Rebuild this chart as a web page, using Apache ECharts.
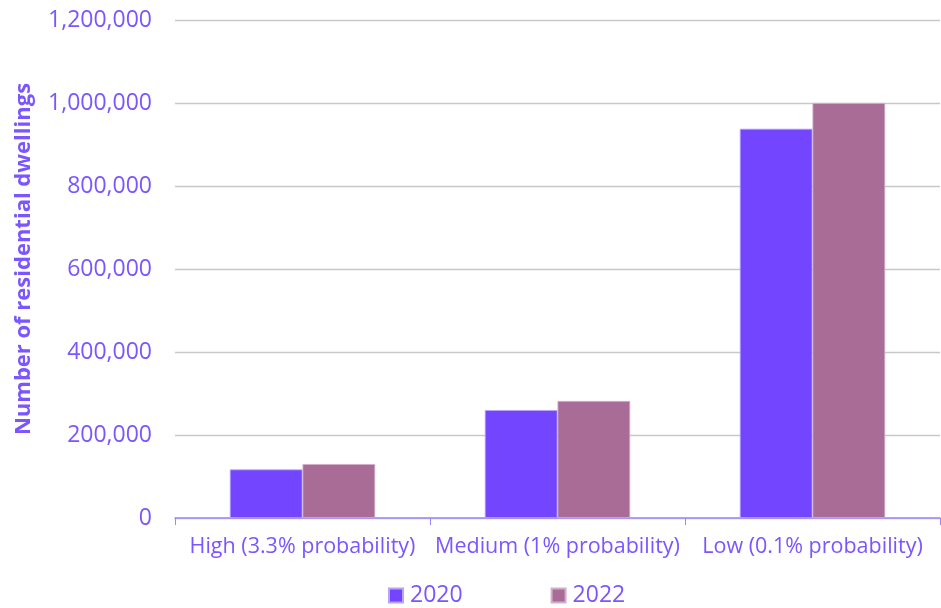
<!DOCTYPE html>
<html>
<head>
<meta charset="utf-8">
<script src="https://cdn.jsdelivr.net/npm/echarts@6/dist/echarts.min.js"></script>
<style>html,body{margin:0;padding:0;background:#fff}#c{width:941px;height:608px}</style>
</head>
<body>
<div id="c"></div>
<script>
const categories = ['High (3.3% probability)', 'Medium (1% probability)', 'Low (0.1% probability)'];
const seriesNames = ['2020', '2022'];
const values2020 = [117000, 260000, 938000];
const values2022 = [130000, 282000, 1000000];
const yTicks = [0, 200000, 400000, 600000, 800000, 1000000, 1200000];

const textColor = '#7B55FF';
const chart = echarts.init(document.getElementById('c'));
chart.setOption({
  animation: false,
  textStyle: { fontFamily: 'Open Sans' },
  grid: { left: 175, right: 1, top: 20, bottom: 90, containLabel: false, outerBoundsMode: 'none' },
  legend: {
    top: 579,
    left: 383,
    padding: [5, 5, 5, 5],
    itemWidth: 14, itemHeight: 14, itemGap: 88,
    icon: 'rect',
    textStyle: { color: textColor, fontSize: 23, fontFamily: 'Open Sans', padding: [0, 0, 0, 2] },
    data: seriesNames
  },
  xAxis: {
    type: 'category',
    data: categories,
    axisLine: { lineStyle: { color: '#9D85FF', width: 1.5 } },
    axisTick: { show: true, length: 7, lineStyle: { color: '#9D85FF' } },
    axisLabel: { color: textColor, fontSize: 21.5, margin: 18, interval: 0, hideOverlap: false, fontFamily: 'Open Sans' }
  },
  yAxis: {
    type: 'value',
    min: yTicks[0], max: yTicks[yTicks.length - 1], interval: 200000,
    name: 'Number of residential dwellings',
    nameLocation: 'middle', nameGap: 140,
    nameTextStyle: { color: textColor, fontSize: 22, fontWeight: 'bold', fontFamily: 'Open Sans', padding: [0, 0, 0, 20] },
    axisLine: { show: false },
    axisTick: { show: false },
    splitLine: { lineStyle: { color: '#C8C8C8', width: 1.3 } },
    axisLabel: {
      color: textColor, fontSize: 23, margin: 23, fontFamily: 'Open Sans',
      formatter: v => v.toLocaleString('en-US')
    }
  },
  series: [
    { name: seriesNames[0], type: 'bar', data: values2020, barGap: '0%', barCategoryGap: '43%',
      itemStyle: { color: '#7445FF', borderColor: '#B8A4FF', borderWidth: 0.8 } },
    { name: seriesNames[1], type: 'bar', data: values2022, barGap: '0%', barCategoryGap: '43%',
      itemStyle: { color: '#A96C96', borderColor: '#D2B0CA', borderWidth: 0.8 } }
  ]
});
</script>
</body>
</html>
